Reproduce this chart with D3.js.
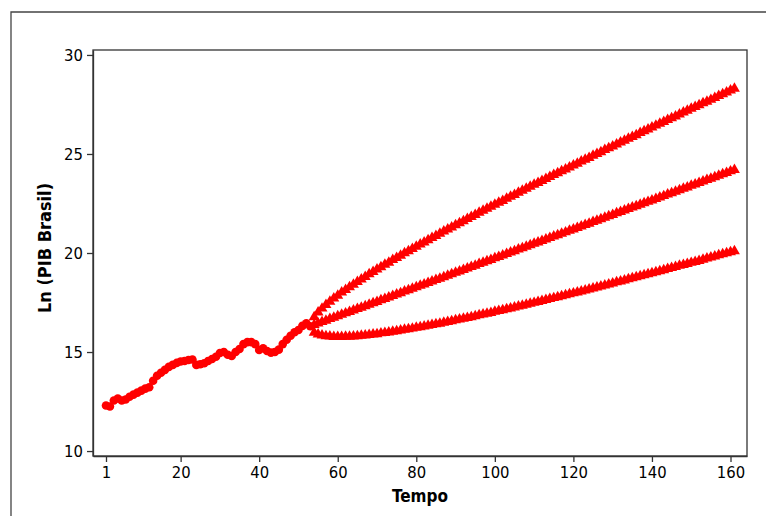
<!DOCTYPE html>
<html><head><meta charset="utf-8">
<script src="https://cdn.jsdelivr.net/npm/d3@7"></script>
<style>
html,body{margin:0;padding:0;background:#fff;}
svg{display:block;}
text{font-family:"DejaVu Sans Condensed","DejaVu Sans",sans-serif;fill:#000;}
</style></head><body>
<svg id="chart" width="766" height="516"></svg>
<script>
// Historical series (t = 1..53)
const histValues = [12.30,12.25,12.55,12.65,12.55,12.60,12.74,12.85,12.95,13.05,
  13.15,13.22,13.55,13.80,13.95,14.10,14.25,14.35,14.45,14.52,
  14.55,14.60,14.62,14.35,14.38,14.43,14.55,14.65,14.76,14.95,
  15.00,14.86,14.80,15.00,15.15,15.40,15.50,15.50,15.40,15.10,
  15.19,15.05,14.97,15.00,15.12,15.40,15.62,15.82,16.00,16.11,
  16.32,16.45,16.30];
const histStart = 1;
// Forecast series (t = 54..161)
const fcStart = 54;
const fcMid = [16.37,16.45,16.52,16.59,16.67,16.74,16.81,16.89,16.96,17.03,
  17.10,17.18,17.25,17.32,17.40,17.47,17.54,17.62,17.69,17.76,
  17.84,17.91,17.98,18.06,18.13,18.20,18.28,18.35,18.42,18.49,
  18.57,18.64,18.71,18.79,18.86,18.93,19.01,19.08,19.15,19.23,
  19.30,19.37,19.45,19.52,19.59,19.66,19.74,19.81,19.88,19.96,
  20.03,20.10,20.18,20.25,20.32,20.40,20.47,20.54,20.62,20.69,
  20.76,20.84,20.91,20.98,21.05,21.13,21.20,21.27,21.35,21.42,
  21.49,21.57,21.64,21.71,21.79,21.86,21.93,22.01,22.08,22.15,
  22.23,22.30,22.37,22.45,22.52,22.59,22.66,22.74,22.81,22.88,
  22.96,23.03,23.10,23.18,23.25,23.32,23.40,23.47,23.54,23.62,
  23.69,23.76,23.83,23.91,23.98,24.05,24.13,24.20];
const fcUpper = [16.76,17.01,17.20,17.38,17.55,17.71,17.85,18.01,18.14,18.28,
  18.41,18.55,18.67,18.80,18.93,19.05,19.17,19.29,19.41,19.52,
  19.65,19.76,19.87,19.99,20.10,20.21,20.33,20.44,20.54,20.65,
  20.77,20.87,20.98,21.09,21.19,21.30,21.41,21.51,21.61,21.73,
  21.83,21.93,22.04,22.14,22.24,22.34,22.44,22.54,22.64,22.75,
  22.85,22.94,23.05,23.15,23.25,23.35,23.45,23.54,23.65,23.75,
  23.84,23.95,24.04,24.14,24.23,24.33,24.43,24.52,24.63,24.72,
  24.81,24.92,25.01,25.10,25.21,25.30,25.39,25.49,25.59,25.68,
  25.78,25.87,25.96,26.07,26.16,26.25,26.34,26.44,26.53,26.62,
  26.72,26.81,26.90,27.00,27.10,27.19,27.29,27.38,27.47,27.57,
  27.65,27.74,27.83,27.93,28.02,28.11,28.21,28.30];
const fcLower = [15.98,15.89,15.84,15.80,15.79,15.77,15.77,15.77,15.78,15.78,
  15.79,15.81,15.83,15.84,15.87,15.89,15.91,15.95,15.97,16.00,
  16.03,16.06,16.09,16.13,16.16,16.19,16.23,16.26,16.30,16.33,
  16.37,16.41,16.44,16.49,16.53,16.56,16.61,16.65,16.69,16.73,
  16.77,16.81,16.86,16.90,16.94,16.98,17.04,17.08,17.12,17.17,
  17.21,17.26,17.31,17.35,17.39,17.45,17.49,17.54,17.59,17.63,
  17.68,17.73,17.78,17.82,17.87,17.93,17.97,18.02,18.07,18.12,
  18.17,18.22,18.27,18.32,18.37,18.42,18.47,18.53,18.57,18.62,
  18.68,18.73,18.78,18.83,18.88,18.93,18.98,19.04,19.09,19.14,
  19.20,19.25,19.30,19.36,19.40,19.45,19.51,19.56,19.61,19.67,
  19.73,19.78,19.83,19.89,19.94,19.99,20.05,20.10];
const xTicks = [1,20,40,60,80,100,120,140,160];
const yTicks = [10,15,20,25,30];
const xLabel = "Tempo";
const yLabel = "Ln (PIB Brasil)";

const svg = d3.select("#chart");
const L = 93, R = 747, T = 50, B = 456;
const x = d3.scaleLinear().domain([-2.31, 164.2]).range([L, R]);
const y = d3.scaleLinear().domain([9.75, 30.25]).range([B, T]);

// outer frame
svg.append("path").attr("d", "M11,520 L11,12 L770,12")
  .attr("fill","none").attr("stroke","#444").attr("stroke-width",1.3);

// plot box
svg.append("rect").attr("x",L).attr("y",T).attr("width",R-L).attr("height",B-T)
  .attr("fill","none").attr("stroke","#333").attr("stroke-width",1.3);

const xAxis = svg.append("g").attr("transform",`translate(0,${B})`)
  .call(d3.axisBottom(x).tickValues(xTicks).tickSizeInner(6).tickSizeOuter(0).tickPadding(4).tickFormat(d3.format("d")));
const yAxis = svg.append("g").attr("transform",`translate(${L},0)`)
  .call(d3.axisLeft(y).tickValues(yTicks).tickSizeInner(6).tickSizeOuter(0).tickPadding(4).tickFormat(d3.format("d")));
[xAxis,yAxis].forEach(g=>{
  g.select(".domain").attr("stroke","#333").attr("stroke-width",1.3);
  g.selectAll(".tick line").attr("stroke","#333").attr("stroke-width",1.3);
  g.selectAll(".tick text").attr("font-family","'DejaVu Sans Condensed','DejaVu Sans',sans-serif")
    .attr("font-size",16.5).attr("fill","#000");
});

svg.append("text").attr("x",(L+R)/2).attr("y",502).attr("text-anchor","middle")
  .attr("font-size",17).attr("font-weight","bold").text(xLabel);
svg.append("text").attr("transform",`translate(51,248) rotate(-90)`)
  .attr("text-anchor","middle").attr("font-size",18).attr("font-weight","bold").text(yLabel);

const hist = histValues.map((v,i)=>({t:histStart+i, v}));
const mk = arr => arr.map((v,i)=>({t:fcStart+i, v}));

// thin blue connecting line for the history
svg.append("path").datum(hist)
  .attr("d", d3.line().x(d=>x(d.t)).y(d=>y(d.v)))
  .attr("fill","none").attr("stroke","#0000ff").attr("stroke-width",1);

svg.append("g").selectAll("circle").data(hist).join("circle")
  .attr("cx",d=>x(d.t)).attr("cy",d=>y(d.v)).attr("r",4.3).attr("fill","#ff0000");

const tri = d3.symbol().type(d3.symbolTriangle).size(52);
[fcLower, fcMid, fcUpper].forEach(arr=>{
  svg.append("g").selectAll("path").data(mk(arr)).join("path")
    .attr("d", tri).attr("transform", d=>`translate(${x(d.t)},${y(d.v)})`)
    .attr("fill","#ff0000");
});
</script>
</body></html>
